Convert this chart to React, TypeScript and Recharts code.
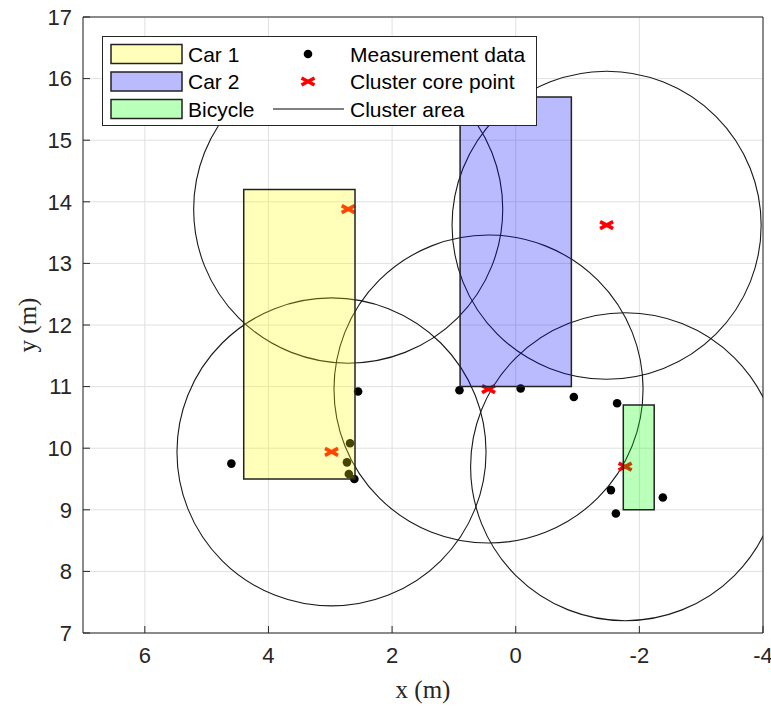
import { ScatterChart, Scatter, XAxis, YAxis, CartesianGrid, ReferenceArea, Legend, Label } from 'recharts';

// axis ticks
const xTicks = [-4, -2, 0, 2, 4, 6];
const yTicks = [7, 8, 9, 10, 11, 12, 13, 14, 15, 16, 17];

// detected objects (bounding boxes, metres)
const objectNames = ['Car 1', 'Car 2', 'Bicycle'];
const objectXFrom = [4.4, 0.9, -1.74];
const objectXTo = [2.6, -0.9, -2.24];
const objectYFrom = [9.5, 11.0, 9.0];
const objectYTo = [14.2, 15.7, 10.7];

// raw radar detections
const measurementX = [4.6, 2.55, 2.68, 2.73, 2.7, 2.61, 0.91, -0.08, -0.94, -1.64, -1.54, -1.62, -2.38];
const measurementY = [9.75, 10.92, 10.08, 9.77, 9.58, 9.5, 10.94, 10.97, 10.83, 10.73, 9.32, 8.94, 9.2];

// DBSCAN core points and their eps neighbourhood
const coreX = [2.71, -1.47, 0.44, 2.98, -1.77];
const coreY = [13.88, 13.62, 10.96, 9.94, 9.7];
const clusterRadius = [2.5, 2.5, 2.5, 2.5, 2.5];

const AXIS = '#262626';
const GRID = '#e0e0e0';
const OBJECT_FILLS = ['#ffff00', '#0000ff', '#00ff00'];
const OBJECT_OPACITY = 0.27;
const SANS = '"Liberation Sans", Arial, Helvetica, sans-serif';
const SERIF = '"Liberation Serif", "DejaVu Serif", "Times New Roman", serif';

const measurementPoints = measurementX.map((x, i) => ({ x, y: measurementY[i] }));
const corePoints = coreX.map((x, i) => ({ x, y: coreY[i] }));

function DataDot(props: any) {
  const { cx, cy } = props;
  return <circle cx={cx} cy={cy} r={4.3} fill="#000" />;
}

function CoreCross(props: any) {
  const { cx, cy } = props;
  return (
    <g stroke="#ff0000" strokeWidth={3.6}>
      <line x1={cx - 6.5} y1={cy - 3.5} x2={cx + 6.5} y2={cy + 3.5} />
      <line x1={cx - 6.5} y1={cy + 3.5} x2={cx + 6.5} y2={cy - 3.5} />
    </g>
  );
}

// circle inscribed in the reference area's box
function ClusterCircle(props: any) {
  const { x, y, width, height, clipPath } = props;
  const w = Math.abs(width);
  const h = Math.abs(height);
  return (
    <ellipse
      cx={Math.min(x, x + width) + w / 2}
      cy={Math.min(y, y + height) + h / 2}
      rx={w / 2}
      ry={h / 2}
      fill="none"
      stroke="#1a1a1a"
      strokeWidth={1.1}
      clipPath={clipPath}
    />
  );
}

function LegendBox() {
  const rows = [18, 45.5, 73];
  return (
    <svg width={435} height={90} style={{ display: 'block' }}>
      <rect x={0.5} y={0.5} width={434} height={89} fill="#fff" stroke={AXIS} strokeWidth={1} />
      {objectNames.map((name, i) => (
        <g key={name}>
          <rect x={9} y={rows[i] - 9.5} width={71} height={19} fill={OBJECT_FILLS[i]} fillOpacity={OBJECT_OPACITY} stroke="#222" strokeWidth={1.5} />
          <text x={86} y={rows[i]} dominantBaseline="central" fontSize={21} fontFamily={SANS} fill="#000">{name}</text>
        </g>
      ))}
      <circle cx={206} cy={rows[0]} r={4.3} fill="#000" />
      <CoreCross cx={206} cy={rows[1]} />
      <line x1={171} y1={rows[2]} x2={242} y2={rows[2]} stroke="#000" strokeWidth={1} />
      <text x={248} y={rows[0]} dominantBaseline="central" fontSize={21} fontFamily={SANS} fill="#000">Measurement data</text>
      <text x={248} y={rows[1]} dominantBaseline="central" fontSize={21} fontFamily={SANS} fill="#000">Cluster core point</text>
      <text x={248} y={rows[2]} dominantBaseline="central" fontSize={21} fontFamily={SANS} fill="#000">Cluster area</text>
    </svg>
  );
}

const tickStyle = { fill: AXIS, fontSize: 22, fontFamily: SANS };

export default function App() {
  return (
    <div style={{ position: 'absolute', left: 0, top: 0, width: 771, height: 707, background: '#fff' }}>
      <ScatterChart width={771} height={707} margin={{ top: 16, right: 7, bottom: 73, left: 82 }}>
        <CartesianGrid stroke={GRID} strokeWidth={1} />
        <XAxis
          dataKey="x"
          type="number"
          domain={[-4, 7]}
          reversed
          allowDataOverflow
          ticks={xTicks}
          interval={0}
          height={1}
          tickSize={-7}
          tickMargin={21}
          axisLine={{ stroke: AXIS }}
          tickLine={{ stroke: AXIS }}
          tick={tickStyle}
        >
          <Label
            content={({ viewBox }: any) => (
              <text
                x={viewBox.x + viewBox.width / 2}
                y={viewBox.y + 56}
                textAnchor="middle"
                dominantBaseline="central"
                fontSize={25}
                fontFamily={SERIF}
                fill={AXIS}
              >
                x (m)
              </text>
            )}
          />
        </XAxis>
        <XAxis
          xAxisId="top"
          orientation="top"
          type="number"
          domain={[-4, 7]}
          reversed
          allowDataOverflow
          ticks={xTicks}
          interval={0}
          height={1}
          tickSize={-7}
          axisLine={{ stroke: AXIS }}
          tickLine={{ stroke: AXIS }}
          tick={false}
        />
        <YAxis
          dataKey="y"
          type="number"
          domain={[7, 17]}
          allowDataOverflow
          ticks={yTicks}
          interval={0}
          width={1}
          tickSize={-7}
          tickMargin={18}
          axisLine={{ stroke: AXIS }}
          tickLine={{ stroke: AXIS }}
          tick={tickStyle}
        >
          <Label
            content={({ viewBox }: any) => {
              const cx = 27;
              const cy = viewBox.y + viewBox.height / 2;
              return (
                <text
                  x={cx}
                  y={cy}
                  transform={`rotate(-90, ${cx}, ${cy})`}
                  textAnchor="middle"
                  dominantBaseline="central"
                  fontSize={25}
                  fontFamily={SERIF}
                  fill={AXIS}
                >
                  y (m)
                </text>
              );
            }}
          />
        </YAxis>
        <YAxis
          yAxisId="right"
          orientation="right"
          type="number"
          domain={[7, 17]}
          allowDataOverflow
          ticks={yTicks}
          interval={0}
          width={1}
          tickSize={-7}
          axisLine={{ stroke: AXIS }}
          tickLine={{ stroke: AXIS }}
          tick={false}
        />

        {coreX.map((cx, i) => (
          <ReferenceArea
            key={`cluster-${i}`}
            x1={cx + clusterRadius[i]}
            x2={cx - clusterRadius[i]}
            y1={coreY[i] - clusterRadius[i]}
            y2={coreY[i] + clusterRadius[i]}
            ifOverflow="hidden"
            shape={<ClusterCircle />}
            zIndex={100}
          />
        ))}

        <Scatter name="Measurement data" data={measurementPoints} shape={<DataDot />} isAnimationActive={false} zIndex={600} />
        <Scatter name="Cluster core point" data={corePoints} shape={<CoreCross />} isAnimationActive={false} zIndex={610} />

        {objectNames.map((name, i) => (
          <ReferenceArea
            key={name}
            x1={objectXFrom[i]}
            x2={objectXTo[i]}
            y1={objectYFrom[i]}
            y2={objectYTo[i]}
            fill={OBJECT_FILLS[i]}
            fillOpacity={OBJECT_OPACITY}
            stroke="#222"
            strokeWidth={1.5}
            ifOverflow="visible"
            zIndex={700}
          />
        ))}

        <Legend
          layout="horizontal"
          verticalAlign="middle"
          align="center"
          content={() => <LegendBox />}
          wrapperStyle={{ left: 102, top: 36, width: 435, height: 90 }}
        />
      </ScatterChart>
    </div>
  );
}
